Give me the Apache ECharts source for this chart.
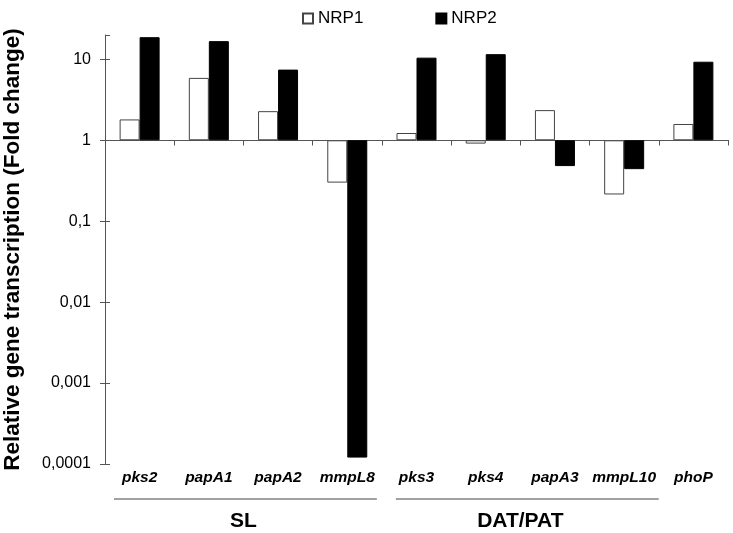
<!DOCTYPE html>
<html><head><meta charset="utf-8">
<script src="https://cdn.jsdelivr.net/npm/echarts@6/dist/echarts.min.js"></script>
<style>html,body{margin:0;padding:0;background:#fff}#c{width:733px;height:533px}</style>
</head><body><div id="c"></div>
<script>
var categories = ['pks2','papA1','papA2','mmpL8','pks3','pks4','papA3','mmpL10','phoP'];
var nrp1 = [1.81, 5.9, 2.29, 0.30, 1.23, 0.91, 2.36, 0.214, 1.59];
var nrp2 = [18.8, 16.8, 7.47, 0.00012, 10.5, 11.6, 0.48, 0.44, 9.35];
var tickLabels = ['0,0001','0,001','0,01','0,1','1','10'];
var groupNames = ['SL','DAT/PAT'];
var groupRanges = [[0,3],[4,7]];
var yMaxValue = 20;

var FONT = 'Arial, "Liberation Sans", sans-serif';
function lg(v){ return Math.log10(v); }
var chart = echarts.init(document.getElementById('c'), null, {renderer:'canvas'});
var yMin = -4, yMax = lg(yMaxValue);
var axisColor = '#555';
function fmt(v){
  if (Math.abs(v - Math.round(v)) > 1e-6) return '';
  var i = Math.round(v) - yMin;
  return tickLabels[i] !== undefined ? tickLabels[i] : '';
}
var option = {
  animation:false,
  grid:{left:105,right:5,top:35,bottom:69,containLabel:false,outerBoundsMode:'none'},
  legend:{
    top:5,left:297,itemWidth:10,itemHeight:10,itemGap:72,icon:'rect',
    textStyle:{fontFamily:FONT,fontSize:17,color:'#000'},
    data:['NRP1','NRP2']
  },
  xAxis:[
    {type:'category',data:categories,gridIndex:0,boundaryGap:true,
     axisLine:{show:true,onZero:true,lineStyle:{color:axisColor,width:1}},
     axisTick:{show:true,inside:false,length:5,lineStyle:{color:axisColor}},
     axisLabel:{show:false},splitLine:{show:false}},
    {type:'category',data:categories,gridIndex:0,boundaryGap:true,
     axisLine:{show:true,onZero:true,lineStyle:{color:'rgba(0,0,0,0)'}},
     axisTick:{show:true,inside:true,length:5,lineStyle:{color:axisColor}},
     axisLabel:{show:false},splitLine:{show:false}},
    {type:'category',data:categories,gridIndex:0,position:'bottom',boundaryGap:true,
     axisLine:{show:false,onZero:false},axisTick:{show:false},
     axisLabel:{show:true,interval:0,margin:6,fontFamily:FONT,fontSize:15.5,fontWeight:'bold',fontStyle:'italic',color:'#000'},
     splitLine:{show:false}}
  ],
  yAxis:[
    {type:'value',min:yMin,max:yMax,interval:1,
     name:'Relative gene transcription (Fold change)',nameLocation:'middle',nameGap:81,
     nameTextStyle:{fontFamily:FONT,fontSize:22.5,fontWeight:'bold',color:'#000'},
     axisLine:{show:true,lineStyle:{color:axisColor}},
     axisTick:{show:true,inside:false,length:5,lineStyle:{color:axisColor}},
     axisLabel:{margin:14,fontFamily:FONT,fontSize:16,color:'#000',showMaxLabel:false,formatter:fmt},
     splitLine:{show:false}},
    {type:'value',min:yMin,max:yMax,interval:1,position:'left',
     axisLine:{show:true,lineStyle:{color:'rgba(0,0,0,0)'}},
     axisTick:{show:true,inside:true,length:5,lineStyle:{color:axisColor}},
     axisLabel:{show:false},splitLine:{show:false}}
  ],
  series:[
    {name:'NRP1',type:'bar',xAxisIndex:0,yAxisIndex:0,barWidth:20,barGap:'0%',
     itemStyle:{color:'#fff',borderColor:'#444',borderWidth:1},
     data:nrp1.map(lg)},
    {name:'NRP2',type:'bar',xAxisIndex:0,yAxisIndex:0,barWidth:20,barGap:'0%',
     itemStyle:{color:'#000',borderColor:'#000',borderWidth:1},
     data:nrp2.map(lg)}
  ]
};
chart.setOption(option);

var graphics = [];
var lineY = 499, textY = 521;
groupRanges.forEach(function(r,gi){
  var c0 = chart.convertToPixel({xAxisIndex:0}, r[0]);
  var c1 = chart.convertToPixel({xAxisIndex:0}, r[1]);
  var c0b = chart.convertToPixel({xAxisIndex:0}, r[0]+1);
  var w = c0b - c0;
  var x0 = c0 - w*0.5 + (gi===0?9:14);
  var x1 = c1 + w*0.5 - (gi===0?5:0);
  graphics.push({type:'line',shape:{x1:x0,y1:lineY,x2:x1,y2:lineY},style:{stroke:'#444',lineWidth:1}});
  graphics.push({type:'text',x:(c0+c1)/2,y:textY,style:{text:groupNames[gi],fontFamily:FONT,fontSize:21,fontWeight:'bold',fill:'#000',align:'center',verticalAlign:'middle'}});
});
chart.setOption({graphic:graphics});
</script>
</body></html>
